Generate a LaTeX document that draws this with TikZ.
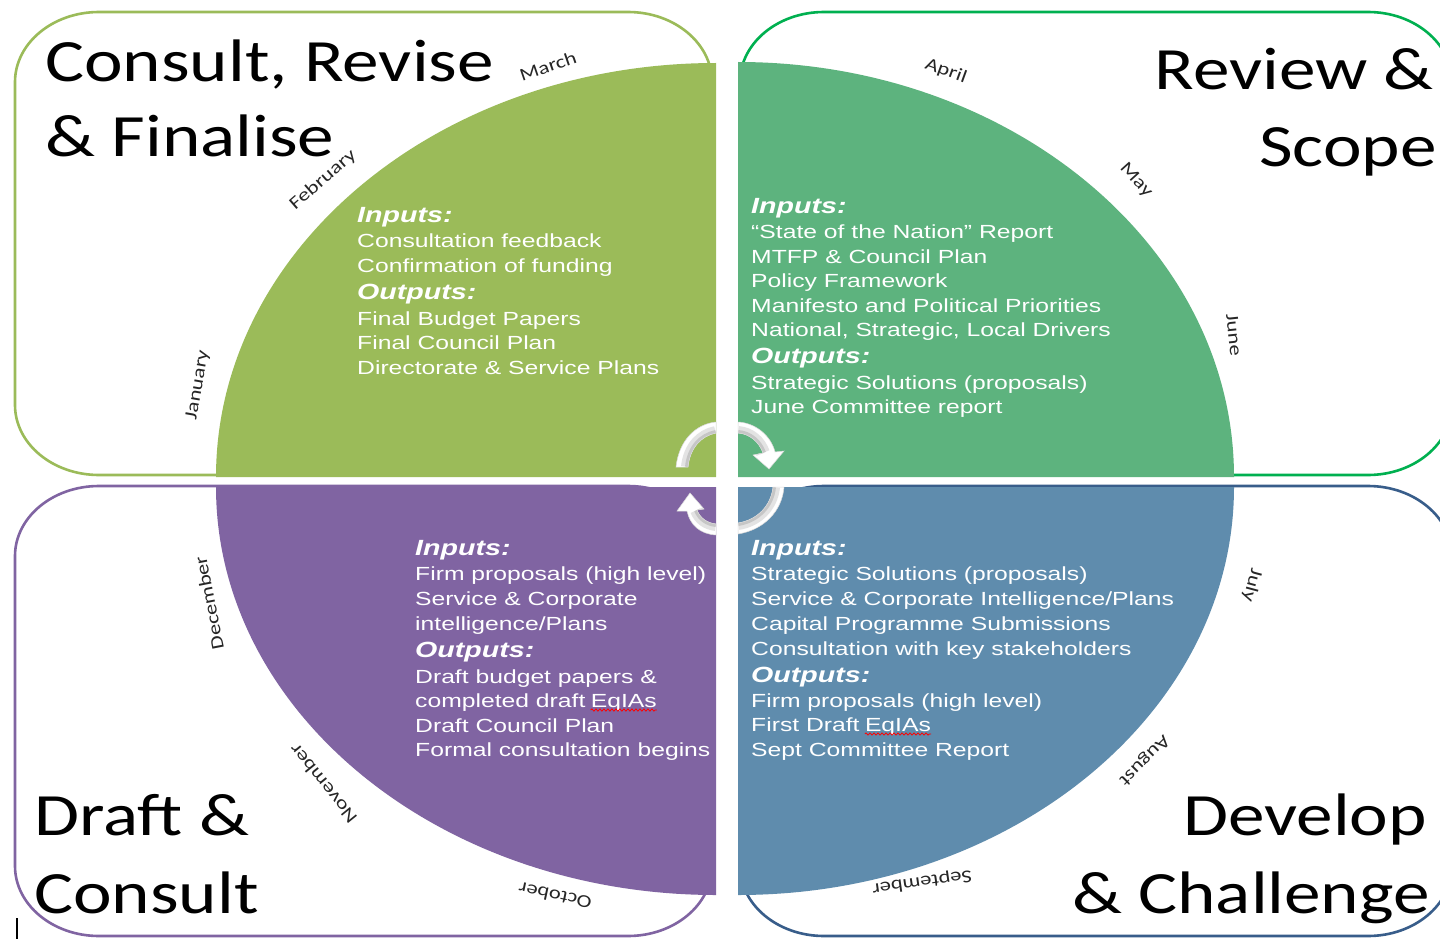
\documentclass[tikz,border=0pt]{standalone}
\usepackage{fontspec}
\usetikzlibrary{decorations.pathmorphing}

\newfontfamily\titlefont[FakeStretch=1.22]{Carlito}
\newfontfamily\bodyfont[FakeStretch=1.3]{Liberation Sans}
\newfontfamily\monthfont[FakeStretch=1.25]{Carlito}

\definecolor{limefill}{HTML}{9BBB59}
\definecolor{greenfill}{HTML}{5DB37E}
\definecolor{purplefill}{HTML}{8064A2}
\definecolor{bluefill}{HTML}{5F8CAD}
\definecolor{limeline}{HTML}{9BBB59}
\definecolor{greenline}{HTML}{00B050}
\definecolor{purpleline}{HTML}{8064A2}
\definecolor{blueline}{HTML}{385D8A}

% rectangle with elliptical corners: colour, left, top, right, bottom
\newcommand\ovalframe[5]{%
  \draw[frame, #1] ({#2+84},#3) -- ({#4-84},#3)
    arc[start angle=-90, end angle=0, x radius=84, y radius=70]
    -- (#4,{#5-70})
    arc[start angle=0, end angle=90, x radius=84, y radius=70]
    -- ({#2+84},#5)
    arc[start angle=90, end angle=180, x radius=84, y radius=70]
    -- (#2,{#3+70})
    arc[start angle=180, end angle=270, x radius=84, y radius=70]
    -- cycle;}

% pieces of the two circular arrows in the middle
\def\arrowA{(676,467) .. controls (679,440) and (696,424) .. (716,422) -- (716,433) .. controls (701,436) and (690,448) .. (688,467) -- cycle}
\def\arrowAin{(688,467) .. controls (690,448) and (701,436) .. (716,433)}
\def\arrowB{(738,422) .. controls (756,423) and (771,436) .. (775,452) -- (784,451) -- (769,469) -- (753,455) -- (763,453) .. controls (759,442) and (750,434) .. (738,433) -- cycle}
\def\arrowBin{(763,453) .. controls (759,442) and (750,434) .. (738,433)}
\def\arrowC{(773,487) -- (784,487) .. controls (782,512) and (763,530) .. (738,534) -- (738,523) .. controls (757,520) and (771,506) .. (773,487) -- cycle}
\def\arrowCin{(773,487) .. controls (771,506) and (757,520) .. (738,523)}
\def\arrowD{(716,535) .. controls (700,534) and (690,525) .. (687,511) -- (677,511) -- (690,493) -- (704,509) -- (697,510) .. controls (700,518) and (707,523) .. (716,524) -- cycle}
\def\arrowDin{(697,510) .. controls (700,518) and (707,523) .. (716,524)}

\newcommand\cyclepiece[2]{%
  \fill[white] #1;
  \begin{scope}
    \clip #1;
    \draw[gray!22, line width=14pt] #2;
    \draw[gray!45, line width=6pt] #2;
  \end{scope}
  \draw[gray!30, line width=0.5pt] #1;}

\tikzset{
  frame/.style={line width=2.6pt},
  title/.style={font=\titlefont\fontsize{60}{72}\selectfont, text=black, inner sep=0pt},
  body/.style={font=\bodyfont\fontsize{19}{23}\selectfont, text=white, anchor=base west, inner sep=0pt},
  head/.style={font=\bodyfont\bfseries\itshape\fontsize{22}{26}\selectfont, text=white, anchor=base west, inner sep=0pt},
  month/.style={font=\monthfont\fontsize{18}{20}\selectfont, text=black!85, inner sep=0pt},
  squiggle/.style={red, line width=0.8pt, decorate, decoration={snake, amplitude=1.1pt, segment length=4pt}}
}

\begin{document}
\begin{tikzpicture}[x=1pt, y=-1pt]
\useasboundingbox (0,0) rectangle (1440,939);
\fill[white] (0,0) rectangle (1440,939);

% phase frames
\ovalframe{limeline}{15}{12}{712}{475}
\ovalframe{greenline}{740}{12}{1452}{475}
\ovalframe{purpleline}{15}{486}{712}{936}
\ovalframe{blueline}{740}{486}{1452}{936}

% quarter discs
\fill[limefill] (716,477) -- (216,477) arc[start angle=180, end angle=270, x radius=500, y radius=414] -- cycle;
\fill[greenfill] (738,477) -- (738,62) arc[start angle=270, end angle=360, x radius=496, y radius=415] -- cycle;
\fill[bluefill] (738,487) -- (1234,487) arc[start angle=0, end angle=90, x radius=496, y radius=408] -- cycle;
\fill[purplefill] (716,487) -- (716,895) arc[start angle=90, end angle=180, x radius=500, y radius=408] -- cycle;

% cycle arrows
\cyclepiece{\arrowA}{\arrowAin}
\cyclepiece{\arrowB}{\arrowBin}
\cyclepiece{\arrowC}{\arrowCin}
\cyclepiece{\arrowD}{\arrowDin}

% phase titles
\node[title, anchor=base west] (t-crf1) at (45,82) {Consult, Revise};
\node[title, anchor=base west] (t-crf2) at (45,157) {\& Finalise};
\node[title, anchor=base east] (t-rs1) at (1434,90) {Review \&};
\node[title, anchor=base east] (t-rs2) at (1437,167) {Scope};
\node[title, anchor=base west] (t-dc1) at (34,835) {Draft \&};
\node[title, anchor=base west] (t-dc2) at (34,913) {Consult};
\node[title, anchor=base east] (t-dv1) at (1427,835) {Develop};
\node[title, anchor=base east] (t-dv2) at (1430,913) {\& Challenge};

% Consult, Revise & Finalise
\node[head] (l1) at (357,222) {Inputs:};
\node[body] (l2) at (357,247) {Consultation feedback};
\node[body] (l3) at (357,272) {Confirmation of funding};
\node[head] (l4) at (357,299) {Outputs:};
\node[body] (l5) at (357,325) {Final Budget Papers};
\node[body] (l6) at (357,349) {Final Council Plan};
\node[body] (l7) at (357,374) {Directorate \& Service Plans};

% Review & Scope
\node[head] (g1) at (751,213) {Inputs:};
\node[body] (g2) at (751,238) {“State of the Nation” Report};
\node[body] (g3) at (751,263) {MTFP \& Council Plan};
\node[body] (g4) at (751,287) {Policy Framework};
\node[body] (g5) at (751,312) {Manifesto and Political Priorities};
\node[body] (g6) at (751,336) {National, Strategic, Local Drivers};
\node[head] (g7) at (751,363) {Outputs:};
\node[body] (g8) at (751,389) {Strategic Solutions (proposals)};
\node[body] (g9) at (751,413) {June Committee report};

% Draft & Consult
\node[head] (p1) at (415,555) {Inputs:};
\node[body] (p2) at (415,580) {Firm proposals (high level)};
\node[body] (p3) at (415,605) {Service \& Corporate};
\node[body] (p4) at (415,630) {intelligence/Plans};
\node[head] (p5) at (415,657) {Outputs:};
\node[body] (p6) at (415,683) {Draft budget papers \&};
\node[body] (p7) at (415,707) {completed draft};
\node[body] (p7e) at ([xshift=5pt]p7.base east) {EqIAs};
\node[body] (p8) at (415,732) {Draft Council Plan};
\node[body] (p9) at (415,756) {Formal consultation begins};

% Develop & Challenge
\node[head] (b1) at (751,555) {Inputs:};
\node[body] (b2) at (751,580) {Strategic Solutions (proposals)};
\node[body] (b3) at (751,605) {Service \& Corporate Intelligence/Plans};
\node[body] (b4) at (751,630) {Capital Programme Submissions};
\node[body] (b5) at (751,655) {Consultation with key stakeholders};
\node[head] (b6) at (751,682) {Outputs:};
\node[body] (b7) at (751,707) {Firm proposals (high level)};
\node[body] (b8) at (751,731) {First Draft};
\node[body] (b8e) at ([xshift=5pt]b8.base east) {EqIAs};
\node[body] (b9) at (751,756) {Sept Committee Report};

% spelling marks
\draw[squiggle] ([yshift=-3pt]p7e.base west) -- ([yshift=-3pt]p7e.base east);
\draw[squiggle] ([yshift=-3pt]b8e.base west) -- ([yshift=-3pt]b8e.base east);

% months around the cycle
\node[month, rotate=19] (m-mar) at (548,66) {March};
\node[month, rotate=41] (m-feb) at (323,180) {February};
\node[month, rotate=80] (m-jan) at (198,385) {January};
\node[month, rotate=-20] (m-apr) at (946,71) {April};
\node[month, rotate=-48] (m-may) at (1136,180) {May};
\node[month, rotate=-84] (m-jun) at (1234,335) {June};
\node[month, rotate=-105] (m-jul) at (1252,585) {July};
\node[month, rotate=-135] (m-aug) at (1144,760) {August};
\node[month, rotate=-172] (m-sep) at (922,882) {September};
\node[month, rotate=168] (m-oct) at (555,896) {October};
\node[month, rotate=129] (m-nov) at (323,784) {November};
\node[month, rotate=101] (m-dec) at (209,603) {December};

% stray text cursor
\draw[line width=2pt] (17,918) -- (17,939);
\end{tikzpicture}
\end{document}
